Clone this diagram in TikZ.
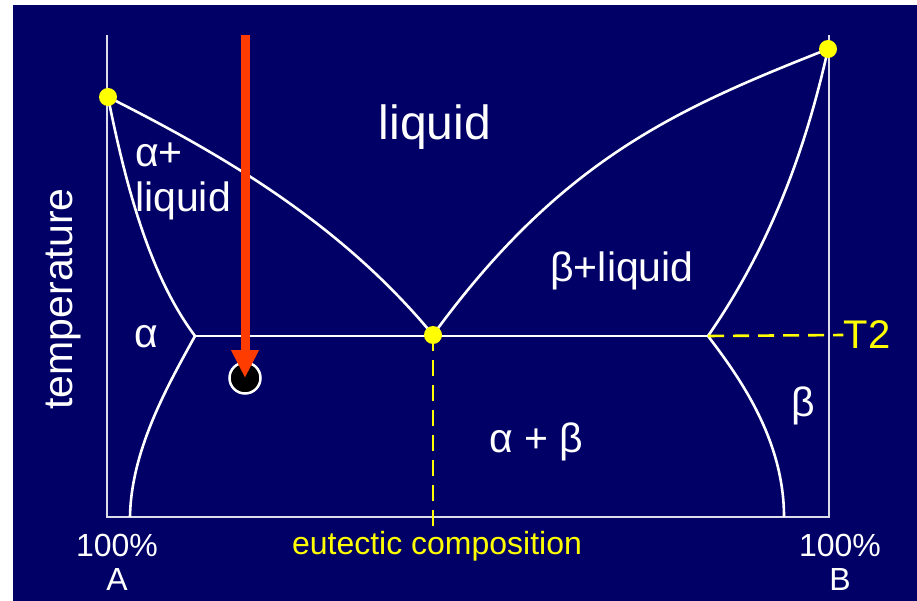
\documentclass[tikz,border=0pt]{standalone}
\usepackage{fontspec}
\setmainfont{Liberation Sans}
\usepackage{tikz}
\usetikzlibrary{arrows.meta}
\definecolor{fundo}{HTML}{000066}
\definecolor{eixo}{HTML}{DCDCEA}
\definecolor{amarelo}{HTML}{FFFF00}
\definecolor{seta}{HTML}{FF3C00}

\begin{document}
\begin{tikzpicture}[
      x=1pt, y=-1pt,
      curva/.style={white,line width=2.6pt},
      eixo/.style={draw=eixo,line width=2.6pt},
      ponto/.style={circle,fill=amarelo,inner sep=0pt,minimum size=18pt},
      guia/.style={draw=amarelo,line width=2.6pt,dash pattern=on 16pt off 9pt},
      lbl/.style={text=white,inner sep=0pt,font=\fontsize{41}{49}\selectfont},
      rod/.style={inner sep=0pt,font=\fontsize{32}{38}\selectfont},
    ]
    \useasboundingbox (0,0) rectangle (917,601);
    \fill[white] (0,0) rectangle (917,601);
    \fill[fundo] (13,5) rectangle (917,601);
  % eixos
  \coordinate (a0) at (107,35);
  \coordinate (a1) at (107,517);
  \coordinate (b1) at (829,517);
  \coordinate (b0) at (829,35);
  \draw[eixo] (a0) -- (a1) -- (b1) -- (b0);
  % pontos do diagrama
  \coordinate (fA) at (108,97);
  \coordinate (fB) at (828,49);
  \coordinate (eut) at (433,335);
  \coordinate (ea) at (195,336);
  \coordinate (eb) at (708,336);
  \coordinate (sa) at (130,517);
  \coordinate (sb) at (784,517);
  % linhas de fase
  \draw[curva] (fA) .. controls (227,157) and (342,225) .. (eut);
  \draw[curva] (eut) .. controls (562,158) and (679,108) .. (fB);
  \draw[curva] (fA) .. controls (126,187) and (150,276) .. (ea);
  \draw[curva] (ea) .. controls (168,385) and (131,450) .. (sa);
  \draw[curva] (fB) .. controls (806,148) and (771,245) .. (eb);
  \draw[curva] (eb) .. controls (740,378) and (784,440) .. (sb);
  \draw[curva] (ea) -- (eb);
  % rotulos
  \node[lbl,font=\fontsize{48}{56}\selectfont] (liq) at (435,127) {liquid};
  \node[lbl,anchor=west] (al1) at (135,155) {α+};
  \node[lbl,anchor=west] (al2) at (135,201) {liquid};
  \node[lbl] (bl) at (622,271) {β+liquid};
  \node[lbl] (alfa) at (146,337) {α};
  \node[lbl] (ab) at (536,442) {α + β};
  \node[lbl] (beta) at (803,406) {β};
  \node[lbl,rotate=90] (temp) at (63,299) {temperature};
  \node[rod,text=amarelo,font=\fontsize{40}{48}\selectfont] (t2) at (867,335) {T2};
  \node[rod,text=white] (pa) at (117,545) {100\%};
  \node[rod,text=white] (la) at (117,579) {A};
  \node[rod,text=white] (pb) at (840,545) {100\%};
  \node[rod,text=white] (lb) at (840,579) {B};
  \node[rod,text=amarelo] (ec) at (437,546) {eutectic composition};
  % guias amarelas
  \draw[guia] (eb) -- (t2.west);
  \draw[guia] (eut) -- (eut |- ec.north);
  \node[ponto] (mA) at (fA) {};
  \node[ponto] (mB) at (fB) {};
  \node[ponto] (mE) at (eut) {};
  % resfriamento
  \node[circle,fill=black,draw=white,line width=2.5pt,minimum size=31pt] (bola) at (245,378) {};
  \coordinate (topo) at (245,35);
  \draw[seta,line width=9pt,-{Triangle[length=28pt,width=26pt]}] (topo) -- (bola.center);
\end{tikzpicture}
\end{document}
